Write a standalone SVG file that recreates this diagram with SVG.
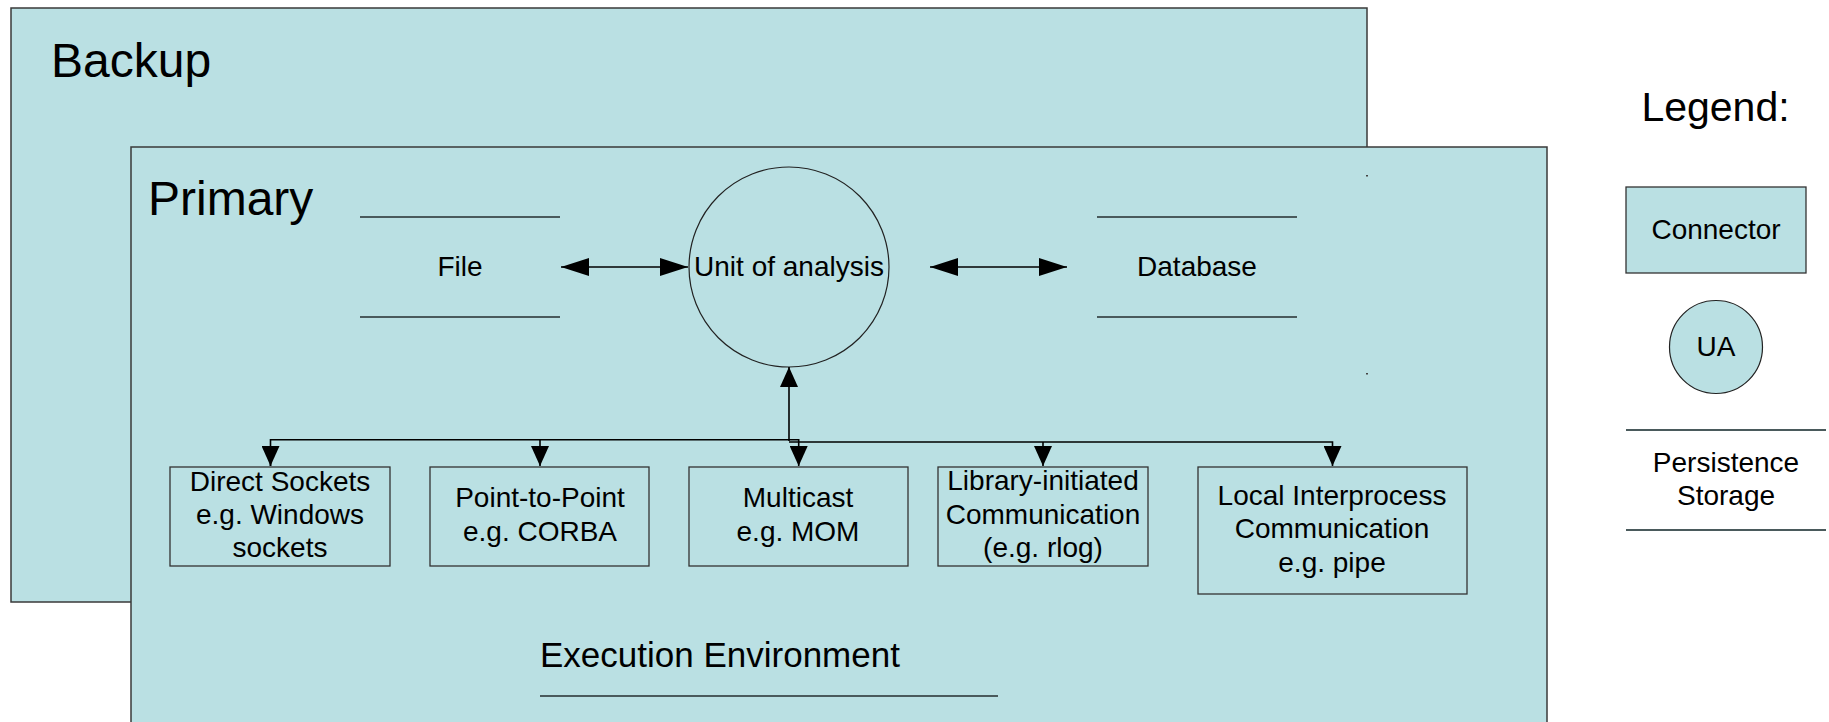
<svg xmlns="http://www.w3.org/2000/svg" width="1829" height="722" viewBox="0 0 1829 722">
  <style>
    text { font-family: "Liberation Sans", Arial, sans-serif; fill: #000; }
    .env { fill: #BAE0E3; stroke: #3a3a3a; stroke-width: 1.5; }
    .box { fill: #BAE0E3; stroke: #333; stroke-width: 1.3; }
    .ua { fill: #BAE0E3; stroke: #222; stroke-width: 1.2; }
    .store { stroke: #4a5a5c; stroke-width: 1.8; fill: none; }
    .wire { stroke: #000; stroke-width: 1.6; fill: none; }
    .big { font-size: 48px; }
    .mid { font-size: 28px; text-anchor: middle; }
    .tick { fill: #444; }
  </style>
  <defs>
    <marker id="tri" viewBox="0 0 28 18" refX="28" refY="9" markerWidth="28" markerHeight="18" markerUnits="userSpaceOnUse" orient="auto-start-reverse">
      <path d="M0,0 L28,9 L0,18 Z" fill="#000"/>
    </marker>
    <marker id="tri-s" viewBox="0 0 20 18" refX="20" refY="9" markerWidth="20" markerHeight="18" markerUnits="userSpaceOnUse" orient="auto-start-reverse">
      <path d="M0,0 L20,9 L0,18 Z" fill="#000"/>
    </marker>
  </defs>

  <!-- Backup execution environment -->
  <g id="backup">
    <rect class="env" x="11" y="8" width="1356" height="594"/>
    <text class="big" x="51" y="77">Backup</text>
  </g>

  <!-- Primary execution environment -->
  <g id="primary">
    <rect class="env" x="131" y="147" width="1416" height="590"/>
    <text class="big" x="148" y="215">Primary</text>
    <rect class="tick" x="1366" y="175" width="2" height="1.5"/>
    <rect class="tick" x="1366" y="373" width="2" height="1.5"/>
  </g>

  <!-- Persistence storage: File -->
  <g id="file">
    <line class="store" x1="360" y1="217" x2="560" y2="217"/>
    <line class="store" x1="360" y1="317" x2="560" y2="317"/>
    <text class="mid" x="460" y="276">File</text>
  </g>

  <!-- Unit of analysis -->
  <g id="unit-of-analysis">
    <circle class="ua" cx="789" cy="267" r="100"/>
    <text class="mid" x="789" y="276">Unit of analysis</text>
  </g>

  <!-- Persistence storage: Database -->
  <g id="database">
    <line class="store" x1="1097" y1="217" x2="1297" y2="217"/>
    <line class="store" x1="1097" y1="317" x2="1297" y2="317"/>
    <text class="mid" x="1197" y="276">Database</text>
  </g>

  <!-- Connectors -->
  <g id="direct-sockets">
    <rect class="box" x="170" y="467" width="220" height="99"/>
    <text class="mid" x="280" y="491">Direct Sockets</text>
    <text class="mid" x="280" y="524">e.g. Windows</text>
    <text class="mid" x="280" y="557">sockets</text>
  </g>
  <g id="point-to-point">
    <rect class="box" x="430" y="467" width="219" height="99"/>
    <text class="mid" x="540" y="507">Point-to-Point</text>
    <text class="mid" x="540" y="541">e.g. CORBA</text>
  </g>
  <g id="multicast">
    <rect class="box" x="689" y="467" width="219" height="99"/>
    <text class="mid" x="798" y="507">Multicast</text>
    <text class="mid" x="798" y="541">e.g. MOM</text>
  </g>
  <g id="library-initiated">
    <rect class="box" x="938" y="467" width="210" height="99"/>
    <text class="mid" x="1043" y="490">Library-initiated</text>
    <text class="mid" x="1043" y="524">Communication</text>
    <text class="mid" x="1043" y="557">(e.g. rlog)</text>
  </g>
  <g id="local-ipc">
    <rect class="box" x="1198" y="467" width="269" height="127"/>
    <text class="mid" x="1332" y="505">Local Interprocess</text>
    <text class="mid" x="1332" y="538">Communication</text>
    <text class="mid" x="1332" y="572">e.g. pipe</text>
  </g>

  <g id="execution-environment">
    <text x="540" y="667" style="font-size:35px">Execution Environment</text>
    <line class="store" x1="540" y1="696" x2="998" y2="696"/>
  </g>

  <!-- Links between nodes -->
  <g id="connectors">
    <line class="wire" x1="561" y1="267" x2="688" y2="267" marker-start="url(#tri)" marker-end="url(#tri)"/>
    <line class="wire" x1="930" y1="267" x2="1067" y2="267" marker-start="url(#tri)" marker-end="url(#tri)"/>
    <line class="wire" x1="789" y1="441" x2="789" y2="367" marker-end="url(#tri-s)"/>
    <!-- left bus -->
    <polyline class="wire" points="270.5,466 270.5,439.7 798.7,439.7 798.7,466" marker-end="url(#tri-s)"/>
    <line class="wire" x1="270.5" y1="446" x2="270.5" y2="466" marker-end="url(#tri-s)"/>
    <line class="wire" x1="540" y1="439.7" x2="540" y2="466" marker-end="url(#tri-s)"/>
    <!-- right bus -->
    <polyline class="wire" points="789,442 1332.5,442 1332.5,466" marker-end="url(#tri-s)"/>
    <line class="wire" x1="1043" y1="442" x2="1043" y2="466" marker-end="url(#tri-s)"/>
  </g>

  <!-- Legend -->
  <g id="legend">
    <text x="1715.5" y="121" style="font-size:41px;text-anchor:middle">Legend:</text>
  </g>
  <g id="legend-connector">
    <rect class="box" x="1626" y="187" width="180" height="86"/>
    <text class="mid" x="1716" y="239">Connector</text>
  </g>
  <g id="legend-ua">
    <circle class="ua" cx="1716" cy="347" r="46.5"/>
    <text class="mid" x="1716" y="356">UA</text>
  </g>
  <g id="legend-storage">
    <line class="store" x1="1626" y1="430" x2="1826" y2="430"/>
    <line class="store" x1="1626" y1="530" x2="1826" y2="530"/>
    <text class="mid" x="1726" y="472">Persistence</text>
    <text class="mid" x="1726" y="505">Storage</text>
  </g>
</svg>
